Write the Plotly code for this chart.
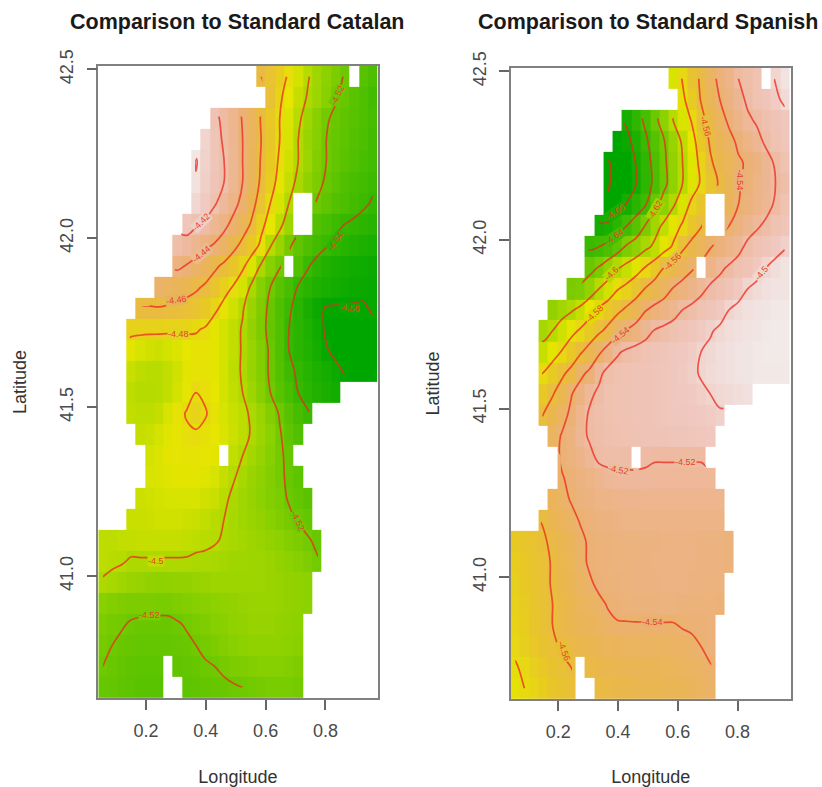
import plotly.graph_objects as go

N = None
longitude = [0.056,0.087,0.118,0.149,0.181,0.212,0.243,0.274,0.305,0.336,0.367,0.398,0.429,0.461,0.492,
             0.523,0.554,0.585,0.616,0.647,0.678,0.709,0.741,0.772,0.803,0.834,0.865,0.896,0.927,0.958]
latitude = [42.479,42.416,42.354,42.292,42.229,42.167,42.105,42.042,41.980,41.918,41.855,41.793,41.731,41.668,41.606,
            41.543,41.481,41.419,41.356,41.294,41.231,41.169,41.107,41.044,40.982,40.920,40.857,40.795,40.733,40.670]
# first filled column of each latitude row (same land mask in both maps)
row_start = [17,18,12,11,10,10,10,9,8,8,6,4,3,3,3,3,3,4,5,5,4,3,0,0,0,0,0,0,0,0]

# values: thousandths below -4 (e.g. 480 = -4.480), north to south
catalan = [
[460,467,474,482,491,499,505,511,516,521,N,528,532],
[465,478,486,495,501,506,512,519,523,527,531,535],
[416,424,432,441,450,461,471,480,489,498,505,512,519,522,525,528,531,534],
[406,414,422,431,440,450,460,470,480,490,500,507,513,520,523,526,529,532,535],
[399,407,414,420,430,440,451,461,472,482,492,500,506,514,520,524,527,530,533,536],
[401,408,415,420,430,440,452,462,474,485,495,503,510,516,522,526,530,533,535,538],
[405,410,418,427,435,444,455,467,480,490,500,N,N,521,525,529,532,535,538,541],
[413,418,423,430,436,444,452,462,476,486,497,506,N,N,530,533,537,540,542,544,546],
[421,426,431,437,441,447,455,464,472,483,499,507,518,525,531,535,539,543,546,548,550,552],
[437,441,446,451,457,463,470,477,489,502,512,519,N,530,539,544,548,551,553,555,556,557],
[445,449,452,455,458,462,468,475,481,491,503,513,520,527,533,541,545,549,552,554,556,557,558,559],
[461,461,461,462,463,465,467,472,477,484,492,499,507,515,523,531,538,545,551,557,561,561,561,561,561,559],
[476,476,476,476,477,477,478,479,481,487,491,496,501,509,516,524,530,540,544,549,555,562,564,565,564,563,562],
[487,490,492,493,491,489,486,484,484,487,491,496,501,507,514,522,530,540,544,548,553,559,563,565,567,567,566],
[494,497,498,498,496,492,487,484,484,487,491,497,501,508,514,522,529,537,542,546,550,553,557,561,565,567,568],
[497,499,499,498,496,491,485,480,482,486,491,496,500,506,513,520,527,533,540,544,548,551,554],
[496,497,497,495,490,484,479,477,479,484,490,494,497,502,507,514,521,528,534,539],
[495,494,491,488,485,482,481,483,486,489,493,497,501,506,511,519,525,530],
[491,489,487,485,484,484,485,487,N,496,500,504,508,513,518,523],
[490,489,488,487,487,487,488,490,495,499,503,507,510,514,518,522,526],
[493,492,491,490,490,490,490,492,494,498,502,505,508,511,514,517,521,524,527],
[494,494,493,492,492,492,493,494,496,498,500,503,505,507,509,512,515,518,521,524],
[497,497,496,496,495,495,495,495,495,496,497,498,499,501,503,504,506,507,509,511,514,516,519,522],
[497,498,499,501,501,501,501,501,501,501,502,502,503,504,505,505,506,506,507,509,511,513,515,519],
[501,503,505,507,508,509,510,510,509,509,508,507,506,506,506,506,506,506,507,508,509,510,511],
[512,514,515,516,516,516,517,517,515,514,513,512,511,510,509,508,507,507,507,508,509,510,511],
[516,518,519,521,522,522,522,522,521,519,517,515,513,512,510,509,508,508,508,509,510,511],
[518,520,522,523,524,524,524,524,523,522,520,518,516,514,512,511,510,510,510,510,511,512],
[520,522,524,525,526,526,526,N,525,524,523,521,520,518,516,515,514,513,513,513,514,515],
[523,524,525,526,527,527,527,N,N,526,525,524,523,522,521,520,519,518,517,517,517,518],
]

spanish = [
[590,579,566,558,546,536,530,520,516,512,N,499,494],
[583,572,559,550,540,533,526,517,512,508,503,497],
[658,647,637,624,613,600,590,579,565,554,547,537,530,523,518,514,510,506],
[673,664,655,643,632,621,609,598,586,571,558,551,545,537,531,525,517,512,507],
[681,676,670,659,647,635,623,611,600,588,576,562,554,549,542,538,533,526,518,512],
[681,676,671,660,648,636,624,612,600,589,578,567,558,550,541,537,531,526,520,516],
[678,671,659,650,641,625,613,602,590,576,568,N,N,548,540,535,530,525,518,512],
[659,656,649,640,631,619,606,597,587,578,569,561,N,N,540,534,528,522,517,512,508],
[643,640,635,628,618,612,604,597,587,578,563,555,549,541,535,531,525,516,512,508,505,501],
[625,619,611,602,595,588,579,570,560,554,548,542,N,530,523,518,513,509,505,500,496,494],
[619,618,611,600,592,581,575,567,559,552,547,539,534,530,524,517,514,510,505,500,497,495,494,494],
[611,606,602,596,586,577,570,564,557,551,541,536,532,527,520,516,512,508,505,500,497,495,494,493,492,492],
[605,600,593,585,578,571,563,556,546,539,533,526,519,516,513,510,507,504,501,498,496,495,494,493,492,491,491],
[595,587,579,570,562,553,543,532,522,517,514,512,510,508,506,505,503,500,498,496,495,494,493,492,491,491,491],
[580,572,563,556,544,537,524,515,513,512,510,509,508,507,506,504,502,499,497,496,495,494,493,492,492,492,492],
[570,561,553,541,533,523,517,513,512,511,510,509,508,507,506,505,504,502,500,498,497,496,495],
[560,553,545,537,527,518,515,513,512,511,510,509,508,507,506,506,505,504,503,501],
[546,539,533,525,518,516,514,513,512,511,510,510,509,508,508,507,506,505],
[538,534,530,524,517,516,516,517,N,518,519,519,519,519,519,519],
[541,537,534,531,527,524,523,522,522,522,523,523,523,523,523,523,523],
[548,544,539,535,533,531,530,529,528,528,527,527,527,527,527,527,527,527,527],
[559,553,548,544,539,536,534,533,532,531,531,531,530,530,530,530,530,530,530,531],
[571,568,565,562,557,552,548,543,538,536,535,534,534,534,533,533,532,532,532,532,533,533,534,535],
[573,570,567,563,559,554,549,544,538,536,535,534,534,533,533,532,532,532,532,532,533,533,534,535],
[574,571,567,563,559,555,551,547,542,537,536,535,534,533,533,533,532,532,532,533,533,534,534],
[575,572,568,564,560,556,553,549,546,543,539,537,536,535,535,535,534,534,535,535,536,536,537],
[576,573,568,564,560,556,553,550,548,546,543,541,541,541,541,541,541,541,539,538,537,536],
[578,574,570,566,563,558,556,554,553,551,549,548,547,547,546,546,546,545,545,543,540,536],
[581,578,574,570,566,563,560,N,557,555,553,552,551,551,550,550,549,549,547,546,544,541],
[584,580,577,573,569,566,563,N,N,558,556,555,554,553,552,552,551,551,550,548,546,543],
]

# (text, lon, lat, angle, background)
catalan_labels = [
("-4.42",0.385,42.048,-45,"#EBD0C8"),("-4.44",0.385,41.954,-40,"#E8BC90"),("-4.46",0.302,41.817,-8,"#E7B35A"),
("-4.48",0.307,41.718,0,"#E3D21E"),("-4.5",0.235,41.046,0,"#C4DC00"),("-4.52",0.213,40.884,0,"#7ACB00"),
("-4.52",0.707,41.162,65,"#6CC800"),("-4.54",0.835,41.993,-55,"#2CB400"),("-4.56",0.880,41.795,5,"#0CA800"),
("-4.52",0.841,42.424,-65,"#6CC900"),
]
spanish_labels = [
("-4.56",0.692,42.337,75,"#E6C03A"),("-4.54",0.809,42.178,90,"#E9B07A"),("-4.5",0.881,41.901,-50,"#F0D8D0"),
("-4.54",0.409,41.718,-40,"#E8B27C"),("-4.56",0.581,41.936,-45,"#E7BC4A"),("-4.58",0.320,41.782,-45,"#DEDC00"),
("-4.6",0.381,41.901,-45,"#B8D800"),("-4.62",0.525,42.089,-60,"#A0D500"),("-4.64",0.387,42.010,-35,"#44BD00"),
("-4.66",0.392,42.084,-35,"#18AF00"),("-4.52",0.403,41.317,10,"#EBBDA0"),("-4.52",0.625,41.342,0,"#EBBDA0"),
("-4.54",0.514,40.867,0,"#E8AF72"),("-4.56",0.220,40.782,70,"#E6C030"),
]

terrain = ["#00A600","#24B300","#4CBF00","#7ACC00","#ADD900","#E6E600","#E8C727","#EAB64E","#ECB176","#EEB99F","#F0C9C0","#F2F2F2"]
colorscale = [[i/11, c] for i, c in enumerate(terrain)]

W, H = 822, 787
def fx(px): return px / W
def fy(py): return 1 - py / H

def grid(rows):
    out = []
    for start, vals in zip(row_start, rows):
        cells = [N]*start + [N if v is None else -4 - v/1000 for v in vals]
        if len(cells) > 30:
            raise ValueError(f"row too long: {start} {len(vals)}")
        out.append(cells + [N]*(30-len(cells)))
    return out

fig = go.Figure()
panels = [
    (catalan, catalan_labels, "x", "y", -4.562, -4.395),
    (spanish, spanish_labels, "x2", "y2", -4.668, -4.488),
]
ann = []
for rows, labels, xa, ya, zmin, zmax in panels:
    z = grid(rows)
    fig.add_trace(go.Heatmap(x=longitude, y=latitude, z=z, xaxis=xa, yaxis=ya, colorscale=colorscale,
                             zmin=zmin, zmax=zmax, showscale=False, hoverongaps=False))
    fig.add_trace(go.Contour(x=longitude, y=latitude, z=z, xaxis=xa, yaxis=ya, showscale=False,
                             connectgaps=False,
                             contours=dict(coloring="none", start=-4.68, end=-4.40, size=0.02),
                             line=dict(color="rgba(236,40,30,0.75)", width=1.7, smoothing=1.0)))
    for text, lon, lat, ang, bg in labels:
        ann.append(dict(text=text, x=lon, y=lat, xref=xa, yref=ya, showarrow=False, textangle=ang,
                        font=dict(size=9, color="#E8402A", family="Liberation Sans"),
                        bgcolor=bg, borderpad=0))

titles = [("Comparison to Standard Catalan", 237.5, 22), ("Comparison to Standard Spanish", 648, 22)]
for t, px, py in titles:
    ann.append(dict(text=f"<b>{t}</b>", x=fx(px), y=fy(py), xref="paper", yref="paper", showarrow=False,
                    xanchor="center", yanchor="middle", font=dict(size=21.5, color="#1a1a1a", family="Liberation Sans")))

def xax(dom, rng):
    return dict(domain=dom, range=rng, tickvals=[0.2,0.4,0.6,0.8], ticktext=["0.2","0.4","0.6","0.8"],
                ticks="outside", ticklen=10, tickcolor="#666", tickwidth=1.5, showline=True, mirror=True,
                linecolor="#808080", linewidth=1.5, showgrid=False, zeroline=False, ticklabelstandoff=6,
                tickfont=dict(size=18, color="#4a4a4a", family="Liberation Sans"),
                title=dict(text="Longitude", standoff=30, font=dict(size=18, color="#333", family="Liberation Sans")))

def yax(dom, rng, anchor):
    return dict(domain=dom, range=rng, tickvals=[41.0,41.5,42.0,42.5], ticktext=["41.0","41.5","42.0","42.5"],
                tickangle=-90, ticks="outside", ticklen=10, tickcolor="#666", tickwidth=1.5, showline=True, mirror=True,
                linecolor="#808080", linewidth=1.5, showgrid=False, zeroline=False, anchor=anchor, ticklabelstandoff=6,
                tickfont=dict(size=18, color="#4a4a4a", family="Liberation Sans"),
                title=dict(text="Latitude", standoff=26, font=dict(size=18, color="#333", family="Liberation Sans")))

fig.update_layout(
    width=W, height=H, margin=dict(l=0, r=0, t=0, b=0, autoexpand=False), paper_bgcolor="white", plot_bgcolor="white",
    showlegend=False, annotations=ann,
    xaxis=xax([fx(98.3), fx(377.5)], [0.0405, 0.974]),
    yaxis=yax([fy(698), fy(66)], [40.639, 42.51], "x"),
    xaxis2=xax([fx(511), fx(790.7)], [0.042, 0.978]),
    yaxis2=yax([fy(699), fy(68)], [40.639, 42.51], "x2"),
)
fig.layout.xaxis2.anchor = "y2"
fig.write_html("out.html", config={"displayModeBar": False},
               post_script="document.body.style.margin='0';document.documentElement.style.overflow='hidden';")
